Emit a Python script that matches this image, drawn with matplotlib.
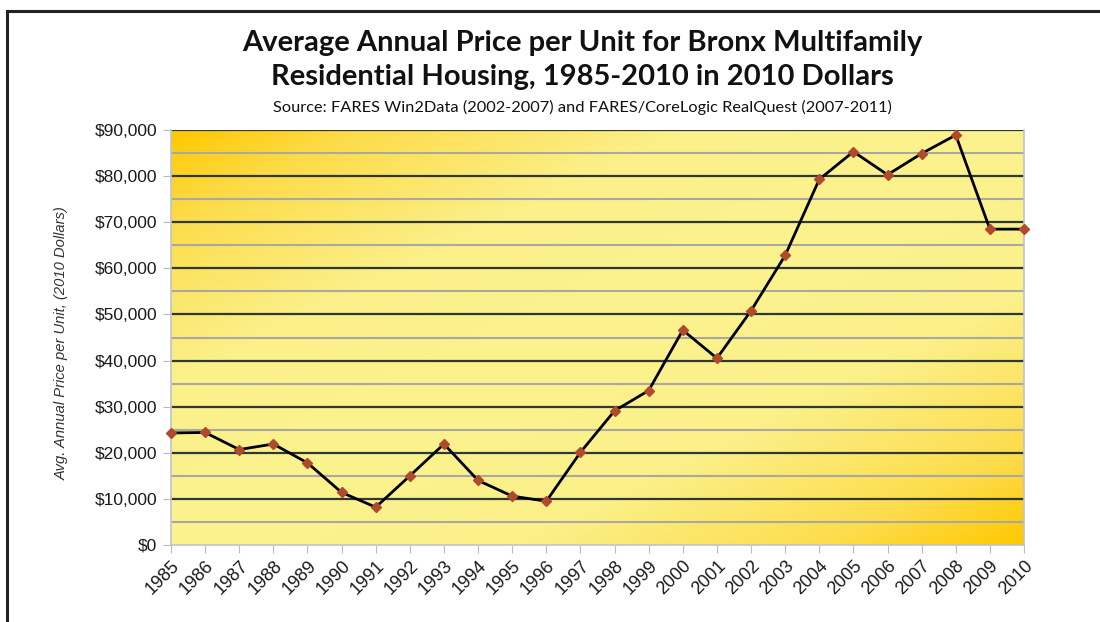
import numpy as np
import matplotlib
matplotlib.use('Agg')
import matplotlib.pyplot as plt
from matplotlib.colors import LinearSegmentedColormap
from matplotlib.ticker import FuncFormatter, MultipleLocator

# Dados
anos = [str(a) for a in range(1985, 2011)]
preco = [24300, 24400, 20700, 21900, 17800, 11400, 8200, 15000, 21900, 14000,
         10600, 9500, 20100, 29100, 33500, 46600, 40500, 50800, 62800, 79300,
         85300, 80300, 84900, 88900, 68500, 68500]

titulo = 'Average Annual Price per Unit for Bronx Multifamily\nResidential Housing, 1985-2010 in 2010 Dollars'
subtitulo = 'Source: FARES Win2Data (2002-2007) and FARES/CoreLogic RealQuest (2007-2011)'
rotulo_y = 'Avg. Annual Price per Unit, (2010 Dollars)'

fig = plt.figure(figsize=(11, 6.22), dpi=100)
ax = fig.add_axes([171 / 1100, 1 - 545 / 622, (1024 - 171) / 1100, (545 - 130) / 622])

x = np.arange(len(anos))

# Fundo em degradê (dourado nos cantos, amarelo claro na diagonal)
gx, gy = np.meshgrid(np.linspace(0, 1, 300), np.linspace(1, 0, 200))
d = np.abs(gx - gy)
cmap = LinearSegmentedColormap.from_list('ouro', [(0, '#FCF38F'), (0.4, '#FBF08A'),
                                                  (0.78, '#FDDC4A'), (1, '#FFC800')])
ax.imshow(d, cmap=cmap, extent=[0, len(anos) - 1, 0, 90000], aspect='auto',
          origin='upper', zorder=0, vmin=0, vmax=1)

# Linhas de grade
for v in range(5000, 90000, 10000):
    ax.axhline(v, color='#A9A9A2', lw=1.5, zorder=1)
for v in range(10000, 90001, 10000):
    ax.axhline(v, color='#2E3836', lw=1.6, zorder=1)

ax.plot(x, preco, color='black', lw=2.0, zorder=3,
        marker='D', markersize=5, markerfacecolor='#B04A2C', markeredgecolor='#B04A2C',
        clip_on=False)

ax.set_xlim(0, len(anos) - 1)
ax.set_ylim(0, 90000)
ax.set_xticks(x)
ax.set_xticklabels(anos, rotation=45, ha='right', rotation_mode='anchor',
                   fontsize=13, family='Liberation Sans', color='#1a1a1a')
ax.yaxis.set_major_locator(MultipleLocator(10000))
ax.yaxis.set_major_formatter(FuncFormatter(lambda v, p: '${:,.0f}'.format(v)))
for lbl in ax.get_yticklabels():
    lbl.set_fontsize(12.5)
    lbl.set_family('Liberation Sans')
    lbl.set_color('#1a1a1a')
ax.tick_params(axis='x', length=6, color='#B8BCC0', pad=3)
ax.tick_params(axis='y', length=6, color='#B8BCC0', pad=4)

for lado in ['left', 'bottom', 'right']:
    ax.spines[lado].set_color('#C0C4C8')
    ax.spines[lado].set_linewidth(1.2)
ax.spines['top'].set_visible(False)

fig.text(62 / 1100, 1 - 343 / 622, rotulo_y, rotation=90, ha='center', va='center',
         fontsize=10.6, style='italic', family='Liberation Sans', color='#333333')

fig.text(582 / 1100, 1 - 60 / 622, titulo, ha='center', va='center', fontsize=21,
         fontweight='bold', family='Lato', color='#111111', linespacing=1.35)
fig.text(582 / 1100, 1 - 107 / 622, subtitulo, ha='center', va='center', fontsize=11.8,
         family='Lato', color='#111111')

# Moldura da figura
fig.add_artist(plt.Line2D([7 / 1100, 1], [1 - 11 / 622, 1 - 11 / 622], color='#222222', lw=2.2))
fig.add_artist(plt.Line2D([7 / 1100, 7 / 1100], [0, 1 - 11 / 622], color='#222222', lw=2.2))

plt.savefig('out.png', dpi=100)
